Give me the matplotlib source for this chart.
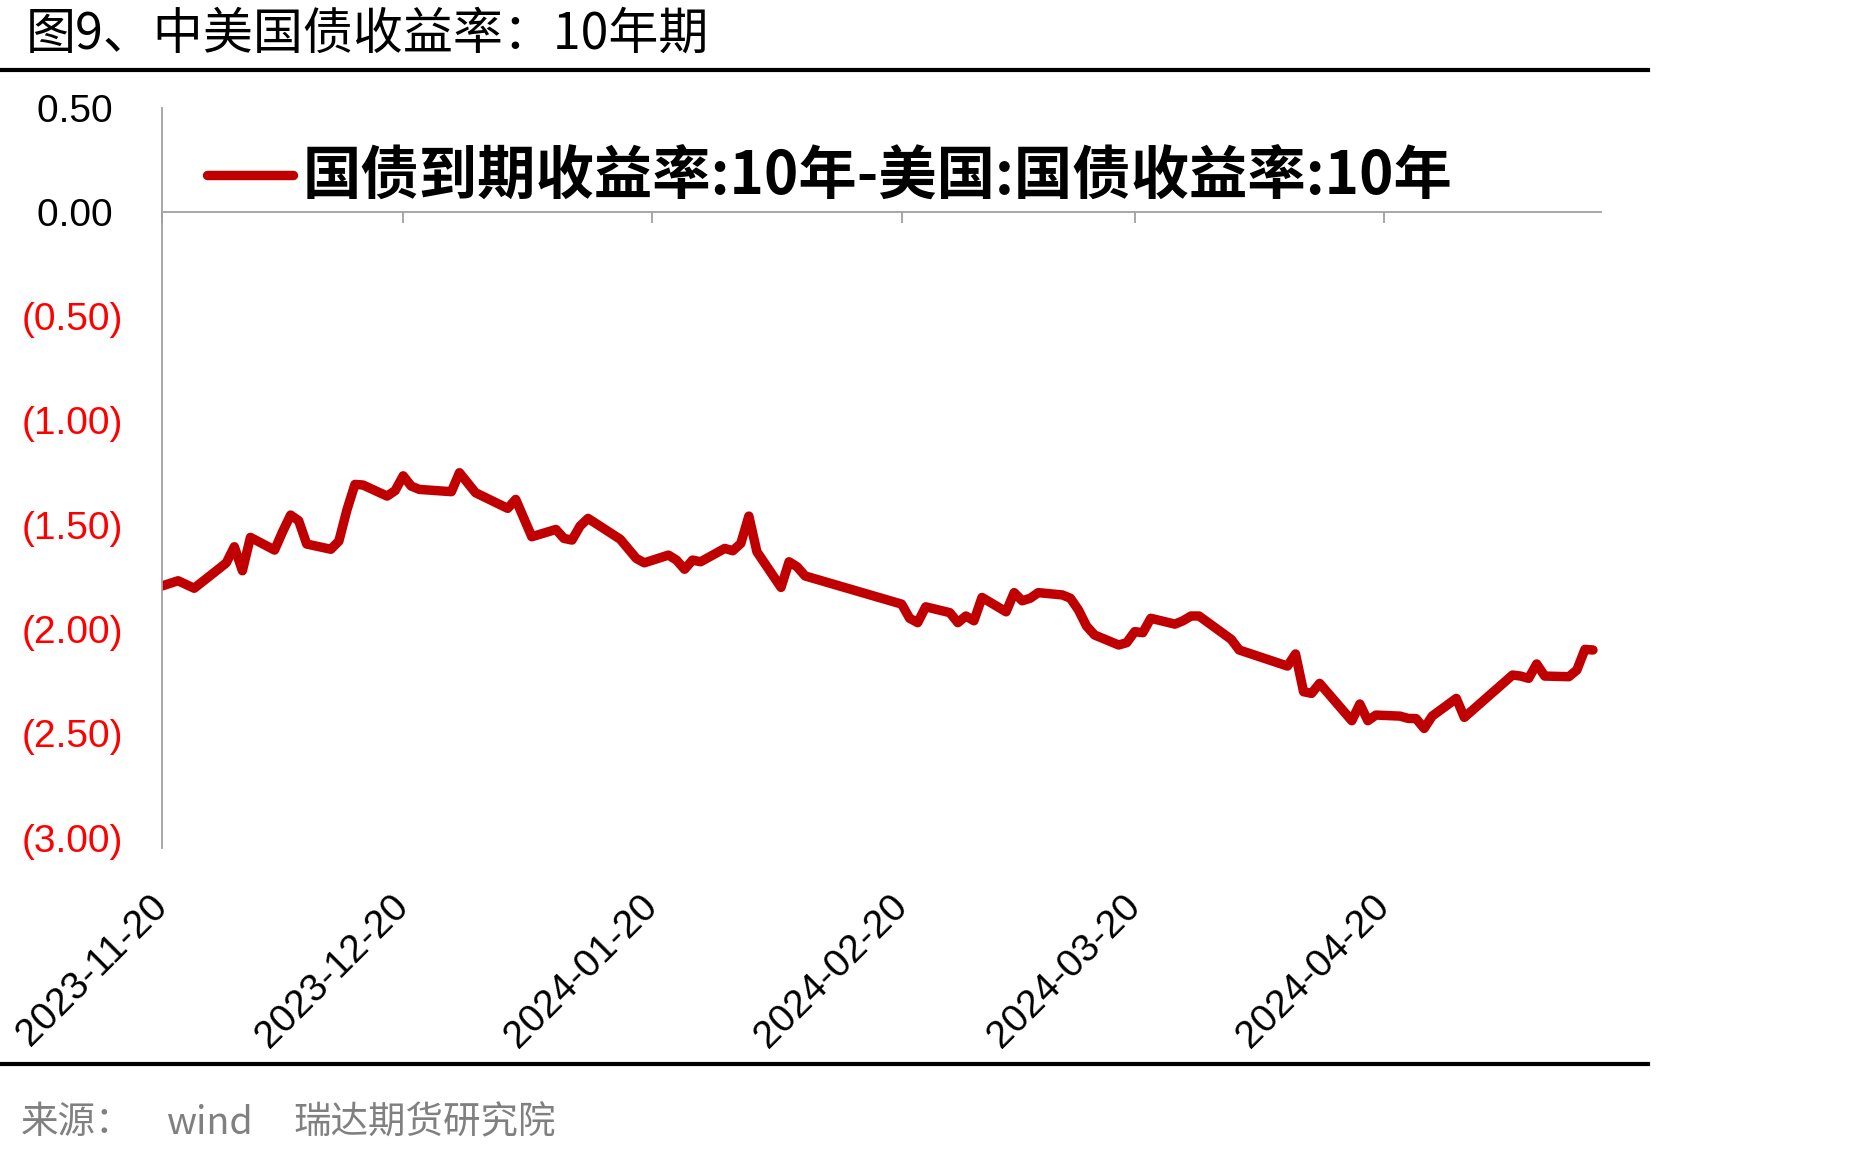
import pandas as pd
import matplotlib
matplotlib.use('Agg')
import matplotlib.pyplot as plt
import matplotlib.dates as mdates
import matplotlib.transforms as mtransforms
from matplotlib.lines import Line2D

# 国债到期收益率:10年 - 美国:国债收益率:10年 (spread, %)
dates = [
    '2023-11-20', '2023-11-22', '2023-11-24', '2023-11-27', '2023-11-28',
    '2023-11-29', '2023-11-30', '2023-12-01', '2023-12-04', '2023-12-05',
    '2023-12-06', '2023-12-07', '2023-12-08', '2023-12-11', '2023-12-12',
    '2023-12-13', '2023-12-14', '2023-12-15', '2023-12-18', '2023-12-19',
    '2023-12-20', '2023-12-21', '2023-12-22', '2023-12-26', '2023-12-27',
    '2023-12-29', '2024-01-02', '2024-01-03', '2024-01-05', '2024-01-08',
    '2024-01-09', '2024-01-10', '2024-01-11', '2024-01-12', '2024-01-16',
    '2024-01-18', '2024-01-19', '2024-01-22', '2024-01-23', '2024-01-24',
    '2024-01-25', '2024-01-26', '2024-01-29', '2024-01-30', '2024-01-31',
    '2024-02-01', '2024-02-02', '2024-02-05', '2024-02-06', '2024-02-07',
    '2024-02-08', '2024-02-20', '2024-02-21', '2024-02-22', '2024-02-23',
    '2024-02-26', '2024-02-27', '2024-02-28', '2024-02-29', '2024-03-01',
    '2024-03-04', '2024-03-05', '2024-03-06', '2024-03-07', '2024-03-08',
    '2024-03-11', '2024-03-12', '2024-03-13', '2024-03-14', '2024-03-15',
    '2024-03-18', '2024-03-19', '2024-03-20', '2024-03-21', '2024-03-22',
    '2024-03-25', '2024-03-26', '2024-03-27', '2024-03-28', '2024-04-01',
    '2024-04-02', '2024-04-08', '2024-04-09', '2024-04-10', '2024-04-11',
    '2024-04-12', '2024-04-16', '2024-04-17', '2024-04-18', '2024-04-19',
    '2024-04-22', '2024-04-23', '2024-04-24', '2024-04-25', '2024-04-26',
    '2024-04-29', '2024-04-30', '2024-05-06', '2024-05-07', '2024-05-08',
    '2024-05-09', '2024-05-10', '2024-05-13', '2024-05-14', '2024-05-15',
    '2024-05-16',
]
spread = [
    -1.794, -1.769, -1.805, -1.714, -1.683,
    -1.606, -1.721, -1.561, -1.622, -1.534,
    -1.454, -1.481, -1.593, -1.618, -1.579,
    -1.430, -1.307, -1.310, -1.363, -1.337,
    -1.266, -1.315, -1.331, -1.342, -1.251,
    -1.347, -1.422, -1.379, -1.558, -1.523,
    -1.566, -1.574, -1.507, -1.470, -1.570,
    -1.662, -1.683, -1.646, -1.670, -1.714,
    -1.670, -1.678, -1.614, -1.625, -1.590,
    -1.459, -1.630, -1.801, -1.678, -1.702,
    -1.746, -1.881, -1.949, -1.970, -1.894,
    -1.922, -1.970, -1.938, -1.961, -1.849,
    -1.918, -1.826, -1.865, -1.853, -1.826,
    -1.837, -1.853, -1.909, -1.986, -2.029,
    -2.077, -2.066, -2.013, -2.018, -1.949,
    -1.977, -1.961, -1.938, -1.938, -2.050,
    -2.101, -2.178, -2.120, -2.301, -2.309,
    -2.261, -2.440, -2.360, -2.440, -2.413,
    -2.418, -2.429, -2.430, -2.477, -2.418,
    -2.333, -2.424, -2.221, -2.226, -2.237,
    -2.168, -2.226, -2.229, -2.197, -2.098,
    -2.101,
]
series_name = '国债到期收益率:10年-美国:国债收益率:10年'

xtick_dates = ['2023-11-20', '2023-12-20', '2024-01-20', '2024-02-20', '2024-03-20', '2024-04-20']
yticks = [-3.0, -2.5, -2.0, -1.5, -1.0, -0.5, 0.0, 0.5]

title = '图9、中美国债收益率：10年期'
source_parts = ['来源：', 'wind', '瑞达期货研究院']

CJK = ['Noto Sans CJK SC', 'DejaVu Sans']
plt.rcParams['font.family'] = ['Liberation Sans', 'DejaVu Sans']

W, H = 1854, 1156
fig = plt.figure(figsize=(W / 100, H / 100), dpi=100)
ax = fig.add_axes([162 / W, 1 - 837.5 / H, 1439 / W, 730 / H])

x = pd.to_datetime(dates)
ax.plot(x, spread, color='#C00000', lw=6.8, solid_capstyle='round',
        solid_joinstyle='round', label=series_name)

ax.set_xlim(pd.Timestamp('2023-11-20'), pd.Timestamp('2024-05-17'))
ax.set_ylim(-3.0, 0.5)

# y labels: negatives in red with parentheses (accounting style)
ylabels = [f'{v:.2f} ' if v >= 0 else f'({abs(v):.2f})' for v in yticks]
ax.set_yticks(yticks)
ax.set_yticklabels(ylabels)
for lab, v in zip(ax.get_yticklabels(), yticks):
    lab.set_color('black' if v >= 0 else '#FF0000')
ax.tick_params(axis='y', length=0, pad=28, labelsize=28)

# x axis drawn on the zero line, labels at the bottom
axis_grey = '#A0A0A0'
ax.spines['bottom'].set_position(('data', 0))
for s in ['left', 'bottom']:
    ax.spines[s].set_color(axis_grey)
    ax.spines[s].set_linewidth(1.3)
ax.spines['left'].set_bounds(-3.05, 0.5)
ax.spines['top'].set_visible(False)
ax.spines['right'].set_visible(False)
ax.set_xticks(pd.to_datetime(xtick_dates))
ax.tick_params(axis='x', direction='out', length=8, width=1.3, color=axis_grey,
               labelbottom=False)

trans = mtransforms.blended_transform_factory(ax.transData, ax.transAxes)
for d in xtick_dates:
    ax.text(mdates.date2num(pd.Timestamp(d)), -0.087, d, transform=trans,
            rotation=45, rotation_mode='anchor', ha='right', va='center',
            fontsize=28, color='black')

ax.legend(loc='center left', bbox_to_anchor=(207 / W, 1 - 178 / H),
          bbox_transform=fig.transFigure, frameon=False,
          prop=dict(family=CJK, weight='bold', size=42),
          handlelength=1.47, handletextpad=0.17, borderpad=0, borderaxespad=0)

# title and rules
fig.text(26 / W, 1 - 34.5 / H, title, fontsize=36, va='center', ha='left', family=CJK)
fig.add_artist(Line2D([0, 1648 / W], [1 - 69.5 / H] * 2, color='black', lw=3,
                      transform=fig.transFigure))
fig.add_artist(Line2D([0, 1648 / W], [1 - 1064 / H] * 2, color='black', lw=3,
                      transform=fig.transFigure))

# source line
for xpos, txt in zip([21, 167, 293], source_parts):
    fig.text(xpos / W, 1 - 1123 / H, txt, fontsize=27, va='center', ha='left',
             color='#808080', family=CJK)

fig.savefig('out.png', dpi=100)
